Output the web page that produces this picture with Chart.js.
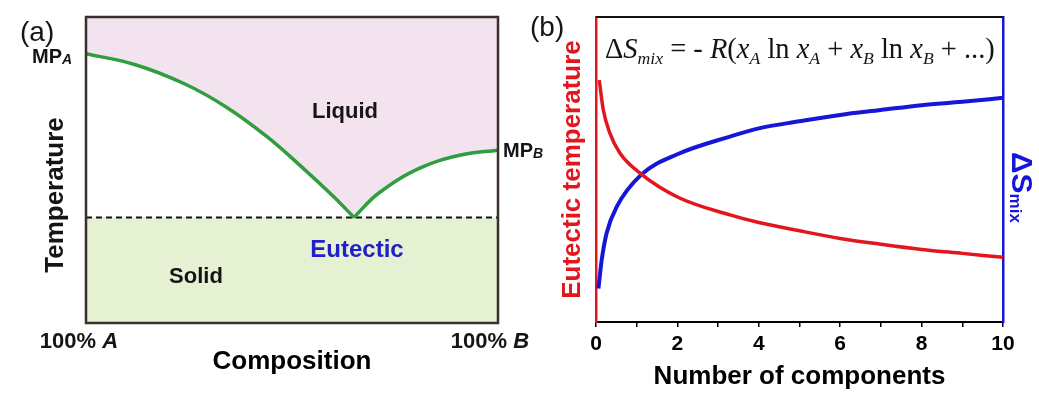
<!DOCTYPE html>
<html>
<head>
<meta charset="utf-8">
<script src="https://cdn.jsdelivr.net/npm/chart.js@4.4.0/dist/chart.umd.min.js"></script>
<style>
  html, body { margin: 0; padding: 0; background: #fff; }
  #wrap { position: relative; width: 1039px; height: 394px; }
  #wrap canvas { position: absolute; top: 0; }
</style>
</head>
<body>
<div id="wrap">
  <canvas id="phase" width="560" height="394" style="left:0"></canvas>
  <canvas id="comp" width="519" height="394" style="left:520px"></canvas>
</div>
<script>
// (a) liquidus, composition (% B) vs temperature (arbitrary units)
const compLeft = [0, 12, 24, 34, 44, 53, 60, 65.05];
const liqLeft = [88, 84.4, 78.1, 70.6, 60.8, 50.2, 41.4, 34.5];
const compRight = [65.05, 71, 81, 91, 100];
const liqRight = [34.5, 42.4, 50.6, 54.9, 56.5];
const eutComp = [0, 100];
const eutTemp = [34.5, 34.5];

// (b) eutectic temperature and mixing entropy vs number of components
const nRed = [0.08, 0.18, 0.34, 0.59, 1.12, 2, 3.29, 4, 5, 6, 7, 8, 9, 10];
const tEutectic = [79.3, 69.5, 61.9, 55.3, 48.4, 41.0, 35.1, 32.6, 29.9, 27.4, 25.5, 23.8, 22.5, 21.2];
const nBlue = [0.06, 0.14, 0.26, 0.51, 1.12, 2, 3.29, 4, 5, 6, 7, 8, 9, 10];
const dSmix = [11.0, 20.3, 29.1, 37.8, 48.4, 55.0, 60.8, 63.5, 65.8, 67.9, 69.5, 71.1, 72.2, 73.5];
const nTicks = [0, 2, 4, 6, 8, 10];

const green = '#2f9e3f', pink = '#f2e3ee', solidGreen = '#e6f0d3';
const red = '#e2161c', blue = '#1616d8';
const SANS = "'Liberation Sans', Arial, sans-serif";
const SERIF = "'Liberation Serif', 'DejaVu Serif', serif";

Chart.defaults.font.family = SANS;
Chart.defaults.color = '#000';
Chart.defaults.animation = false;

function xy(xs, ys) {
  return xs.map((x, i) => ({ x: x, y: ys[i] }));
}

// draw a row of text pieces with different fonts: [text, font, dy]
function runs(ctx, parts, x, y, align) {
  let w = 0;
  parts.forEach(p => { ctx.font = p[1]; w += ctx.measureText(p[0]).width; });
  let cx = align === 'center' ? x - w / 2 : x;
  ctx.textAlign = 'left';
  ctx.textBaseline = 'alphabetic';
  parts.forEach(p => {
    ctx.font = p[1];
    ctx.fillText(p[0], cx, y + (p[2] || 0));
    cx += ctx.measureText(p[0]).width;
  });
}

const phaseText = {
  id: 'phaseText',
  afterDatasetsDraw(chart) {
    const { ctx, chartArea: a } = chart;
    ctx.save();
    ctx.strokeStyle = '#3a2f2d';
    ctx.lineWidth = 2.5;
    ctx.strokeRect(a.left, a.top, a.right - a.left, a.bottom - a.top);

    const b22 = 'bold 22px ' + SANS, bi22 = 'italic bold 22px ' + SANS;
    ctx.fillStyle = '#151515';
    runs(ctx, [['Liquid', b22]], 345, 118, 'center');
    runs(ctx, [['Solid', b22]], 196, 283, 'center');
    runs(ctx, [['100% ', b22], ['A', bi22]], 79, 348, 'center');
    runs(ctx, [['100% ', b22], ['B', bi22]], 490, 348, 'center');
    runs(ctx, [['MP', 'bold 20px ' + SANS], ['A', 'italic bold 14px ' + SANS, 1]], 32, 63, 'left');
    runs(ctx, [['MP', 'bold 20px ' + SANS], ['B', 'italic bold 14px ' + SANS, 1]], 503, 157, 'left');
    runs(ctx, [['(a)', '28px ' + SANS]], 20, 41, 'left');
    ctx.fillStyle = '#2020c8';
    runs(ctx, [['Eutectic', 'bold 24px ' + SANS]], 357, 257, 'center');

    ctx.fillStyle = '#151515';
    ctx.translate(63, 195);
    ctx.rotate(-Math.PI / 2);
    runs(ctx, [['Temperature', 'bold 26px ' + SANS]], 0, 0, 'center');
    ctx.restore();
  }
};

new Chart(document.getElementById('phase'), {
  type: 'line',
  data: {
    datasets: [
      { data: xy(compLeft, liqLeft), borderColor: green, borderWidth: 3.5, backgroundColor: pink,
        fill: 'end', pointRadius: 0, tension: 0.4 },
      { data: xy(compRight, liqRight), borderColor: green, borderWidth: 3.5, backgroundColor: pink,
        fill: 'end', pointRadius: 0, tension: 0.4 },
      { data: xy(eutComp, eutTemp), borderColor: '#111', borderWidth: 2, borderDash: [6, 4],
        backgroundColor: solidGreen, fill: 'start', pointRadius: 0 }
    ]
  },
  options: {
    responsive: false,
    layout: { padding: { left: 86, top: 17, right: 62, bottom: 0 } },
    plugins: { legend: { display: false }, tooltip: { enabled: false } },
    scales: {
      x: {
        type: 'linear', min: 0, max: 100,
        ticks: { display: false }, grid: { display: false }, border: { display: false },
        title: { display: true, text: 'Composition', font: { size: 26, weight: 'bold' }, padding: { top: 0, bottom: 17 } },
        afterFit: s => { s.height = 71; }
      },
      y: { min: 0, max: 100, display: false }
    }
  },
  plugins: [phaseText]
});

const eqParts = [
  ['Δ', 'r'], ['S', 'i'], ['mix', 's'], [' = ', 'r'], ['-', 'r'], [' ', 'r'], ['R', 'i'], ['(', 'r'],
  ['x', 'i'], ['A', 's'], [' ln ', 'r'], ['x', 'i'], ['A', 's'], [' + ', 'r'],
  ['x', 'i'], ['B', 's'], [' ln ', 'r'], ['x', 'i'], ['B', 's'], [' + ', 'r'], ['...', 'r'], [')', 'r']
];

function drawEq(ctx, cx, base, width) {
  const mk = (k, s) => k === 'r' ? s + 'px ' + SERIF : k === 'i' ? 'italic ' + s + 'px ' + SERIF : 'italic ' + (s * 0.62) + 'px ' + SERIF;
  const measure = s => eqParts.reduce((w, p) => { ctx.font = mk(p[1], s); return w + ctx.measureText(p[0]).width; }, 0);
  const size = 28 * width / measure(28);
  let x = cx - width / 2;
  ctx.textAlign = 'left';
  ctx.textBaseline = 'alphabetic';
  eqParts.forEach(p => {
    ctx.font = mk(p[1], size);
    ctx.fillText(p[0], x, base + (p[1] === 's' ? size * 0.2 : 0));
    x += ctx.measureText(p[0]).width;
  });
}

const compText = {
  id: 'compText',
  afterDraw(chart) {
    const { ctx, chartArea: a } = chart;
    ctx.save();
    ctx.strokeStyle = '#111';
    ctx.lineWidth = 2;
    ctx.beginPath();
    ctx.moveTo(a.left, a.top);
    ctx.lineTo(a.right, a.top);
    ctx.stroke();

    ctx.fillStyle = '#151515';
    runs(ctx, [['(b)', '28px ' + SANS]], 10, 36, 'left');
    drawEq(ctx, 280, 58, 390);

    ctx.fillStyle = blue;
    ctx.translate(492, 152);
    ctx.rotate(Math.PI / 2);
    runs(ctx, [['ΔS', 'bold 30px ' + SANS], ['mix', 'bold 17px ' + SANS, 2]], 0, 0, 'left');
    ctx.restore();
  }
};

new Chart(document.getElementById('comp'), {
  type: 'line',
  data: {
    datasets: [
      { label: 'Eutectic temperature', data: xy(nRed, tEutectic), yAxisID: 'y', borderColor: red, borderWidth: 3.5,
        pointRadius: 0, fill: false, cubicInterpolationMode: 'monotone' },
      { label: 'ΔSmix', data: xy(nBlue, dSmix), yAxisID: 'y2', borderColor: blue, borderWidth: 4,
        pointRadius: 0, fill: false, cubicInterpolationMode: 'monotone' }
    ]
  },
  options: {
    responsive: false,
    layout: { padding: { top: 17, left: 0, right: 0, bottom: 0 } },
    plugins: { legend: { display: false }, tooltip: { enabled: false } },
    scales: {
      x: {
        type: 'linear', min: 0, max: 10,
        ticks: { stepSize: 1, autoSkip: false, maxRotation: 0, padding: 5, font: { size: 21, weight: 'bold' },
                 callback: v => nTicks.includes(v) ? v : '' },
        grid: { display: true, drawOnChartArea: false, tickLength: 5, color: '#000', lineWidth: 1.5 },
        border: { color: '#000', width: 2 },
        title: { display: true, text: 'Number of components', font: { size: 26, weight: 'bold' }, padding: { top: 0, bottom: 2 } },
        afterFit: s => { s.height = 72; }
      },
      y: {
        position: 'left', min: 0, max: 100,
        ticks: { display: false }, grid: { display: false },
        border: { color: red, width: 2.5 },
        title: { display: true, text: 'Eutectic temperature', color: red, font: { size: 26, weight: 'bold' }, padding: { top: 37, bottom: 0 } },
        afterFit: s => { s.width = 76; }
      },
      y2: {
        position: 'right', min: 0, max: 100,
        ticks: { display: false }, grid: { display: false },
        border: { color: blue, width: 2.5 },
        afterFit: s => { s.width = 36; }
      }
    }
  },
  plugins: [compText]
});
</script>
</body>
</html>
